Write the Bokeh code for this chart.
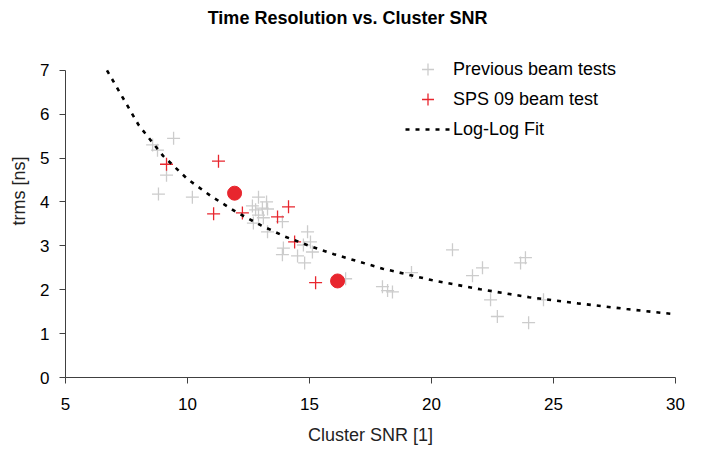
from bokeh.plotting import figure
from bokeh.models import Range1d, FixedTicker, Legend, LegendItem, Label
from bokeh.embed import file_html
from bokeh.resources import INLINE

# Previous beam tests
prev_snr = [9.43, 8.57, 8.77, 9.14, 8.81, 10.20, 12.91, 13.24, 12.66, 12.79,
            13.07, 13.28, 12.91, 13.11, 12.70, 13.89, 13.28, 14.92, 14.75, 15.04,
            15.12, 13.93, 13.89, 14.51, 14.80, 16.48, 20.86, 19.18, 17.99, 18.20,
            18.40, 21.68, 22.09, 23.65, 23.85, 22.42, 22.70, 23.98, 24.59]
prev_trms = [5.45, 5.30, 5.18, 4.61, 4.18, 4.11, 4.11, 4.00, 3.91, 3.82,
             3.86, 3.84, 3.70, 3.64, 3.52, 3.55, 3.32, 3.32, 3.02, 3.09,
             2.86, 2.95, 2.80, 2.77, 2.61, 2.25, 2.91, 2.39, 2.07, 1.98,
             1.95, 2.32, 2.50, 2.61, 2.73, 1.77, 1.39, 1.25, 1.77]

# SPS 09 beam test
sps_snr = [9.14, 11.27, 11.07, 12.25, 14.14, 13.69, 14.39, 15.25]
sps_trms = [4.86, 4.93, 3.73, 3.75, 3.89, 3.66, 3.09, 2.16]

# SPS 09 highlighted points
sps_hi_snr = [11.93, 16.15]
sps_hi_trms = [4.20, 2.20]

# Log-Log fit curve
fit_snr = [6.7, 8, 9, 10, 11, 12, 13, 14, 15, 16, 18, 20, 22, 24, 26, 28, 30]
fit_trms = [7.00, 5.75, 5.05, 4.52, 4.12, 3.77, 3.47, 3.21, 3.00, 2.81, 2.48,
            2.22, 2.01, 1.83, 1.69, 1.56, 1.44]

x_ticks = [5, 10, 15, 20, 25, 30]
y_ticks = [0, 1, 2, 3, 4, 5, 6, 7]

FONT = "Liberation Sans"

p = figure(width=690, height=447, output_backend="svg", toolbar_location=None,
           x_range=Range1d(5, 30), y_range=Range1d(0, 8.5),
           min_border_left=65, min_border_right=15, min_border_top=4,
           min_border_bottom=69)
p.outline_line_color = None
p.grid.visible = False
p.background_fill_color = "white"

for ax in (p.xaxis[0], p.yaxis[0]):
    ax.axis_line_color = "#404040"
    ax.major_tick_line_color = "#404040"
    ax.major_tick_in = 0
    ax.major_tick_out = 6
    ax.minor_tick_line_color = None
    ax.major_label_text_font = FONT
    ax.major_label_text_font_size = "17px"
    ax.major_label_text_color = "black"
    ax.axis_label_text_font = FONT
    ax.axis_label_text_font_size = "18px"
    ax.axis_label_text_font_style = "normal"
    ax.axis_label_text_color = "#222222"

p.yaxis.bounds = (0, 7)
p.xaxis.ticker = FixedTicker(ticks=x_ticks)
p.yaxis.ticker = FixedTicker(ticks=y_ticks)
p.xaxis.axis_label = "Cluster SNR [1]"
p.yaxis.axis_label = "trms [ns]"
p.xaxis.major_label_standoff = 14
p.xaxis.axis_label_standoff = 12
p.yaxis.major_label_standoff = 10
p.yaxis.axis_label_standoff = 8

r_prev = p.scatter(prev_snr, prev_trms, marker="cross", size=13,
                   line_color="#cccccc", line_width=1.3)
r_sps = p.scatter(sps_snr, sps_trms, marker="cross", size=13,
                  line_color="#e8262e", line_width=1.3)
r_fit = p.line(fit_snr, fit_trms, line_color="black", line_width=2.6,
               line_dash="4 6")
p.scatter(sps_hi_snr, sps_hi_trms, marker="circle", size=14,
          fill_color="#e8262e", line_color="#e8262e")

legend = Legend(items=[
    LegendItem(label="Previous beam tests", renderers=[r_prev]),
    LegendItem(label="SPS 09 beam test", renderers=[r_sps]),
    LegendItem(label="Log-Log Fit", renderers=[r_fit]),
], location=(340, 233))
legend.border_line_color = None
legend.background_fill_alpha = 0
legend.padding = 0
legend.margin = 0
legend.spacing = 0
legend.label_height = 30
legend.glyph_height = 30
legend.glyph_width = 45
legend.label_standoff = 3
legend.label_text_font = FONT
legend.label_text_font_size = "18px"
legend.label_text_color = "black"
p.add_layout(legend)

p.add_layout(Label(x=16.56, y=8.2, text="Time Resolution vs. Cluster SNR",
                   text_align="center", text_baseline="middle",
                   text_font=FONT, text_font_size="18px",
                   text_font_style="bold", text_color="black"))

open("out.html", "w").write(file_html(p, INLINE))
